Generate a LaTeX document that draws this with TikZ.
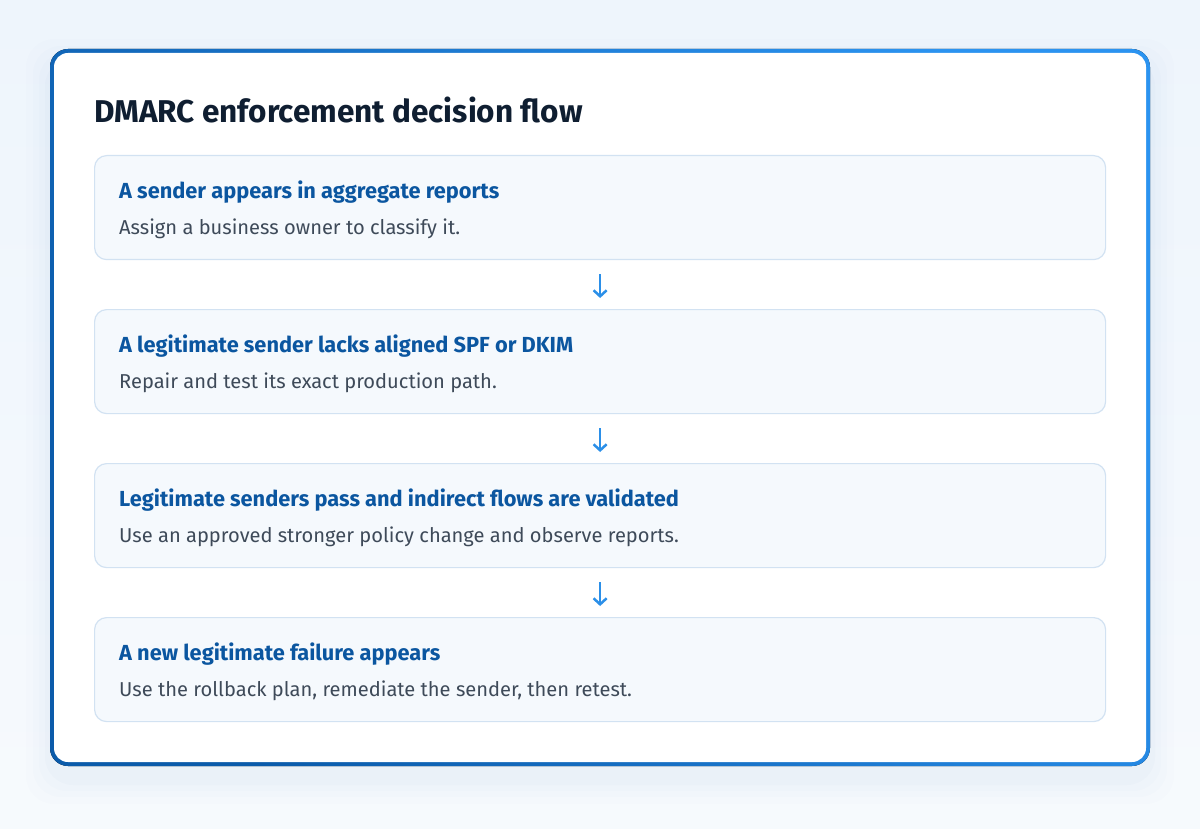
\documentclass[tikz,border=0pt]{standalone}
\usepackage{fontspec}
\setmainfont{Fira Sans}
\usetikzlibrary{positioning,arrows.meta}

\definecolor{pagebg}{HTML}{EEF5FC}
\definecolor{framedark}{HTML}{0B5BAA}
\definecolor{framelight}{HTML}{2B93F0}
\definecolor{stepfill}{HTML}{F5F9FD}
\definecolor{stepline}{HTML}{D2E2F2}
\definecolor{headblue}{HTML}{0B56A0}
\definecolor{bodygrey}{HTML}{3E4A59}
\definecolor{titleink}{HTML}{0F1E31}
\definecolor{arrowblue}{HTML}{2B8FE8}

\begin{document}
\begin{tikzpicture}[x=1pt,y=-1pt,
  stepbox/.style={draw=stepline,line width=1.2pt,fill=stepfill,rounded corners=12pt,
    minimum width=1011pt,minimum height=104pt,inner sep=0pt},
  head/.style={anchor=base west,inner sep=0pt,text=headblue,
    font=\fontsize{21.8}{26}\selectfont\bfseries},
  body/.style={anchor=base west,inner sep=0pt,text=bodygrey,
    font=\fontsize{20.1}{24}\selectfont},
  flow/.style={draw=arrowblue,line width=2.5pt,-{Straight Barb[length=6pt,width=13pt,line width=2.5pt]},
    shorten <=14pt,shorten >=11pt}]

  % page and card
  \fill[top color=pagebg,bottom color=pagebg!50!white] (0,0) rectangle (1200,829);
  \foreach \s/\o in {24/0.008,17/0.01,11/0.012,5/0.015}
    \fill[framedark,opacity=\o,rounded corners=28pt] (50-\s,49-\s+14) rectangle (1150+\s,766+\s+14);
  \fill[left color=framedark,right color=framelight,shading angle=120,rounded corners=18pt]
    (50,49) rectangle (1150,766);
  \fill[white,rounded corners=14pt] (54,53) rectangle (1146,762);

  \node[anchor=base west,inner sep=0pt,text=titleink,
    font=\fontsize{31.5}{38}\selectfont\bfseries] (title) at (94,123) {DMARC enforcement decision flow};

  % steps
  \node[stepbox,anchor=north west] (s1) at (94,155) {};
  \node[stepbox,below=48.8pt of s1] (s2) {};
  \node[stepbox,below=48.8pt of s2] (s3) {};
  \node[stepbox,below=48.8pt of s3] (s4) {};

  \foreach \n/\h/\b in {
    s1/A sender appears in aggregate reports/Assign a business owner to classify it.,
    s2/A legitimate sender lacks aligned SPF or DKIM/Repair and test its exact production path.,
    s3/Legitimate senders pass and indirect flows are validated/Use an approved stronger policy change and observe reports.,
    s4/A new legitimate failure appears/{Use the rollback plan, remediate the sender, then retest.}} {
    \node[head] (\n h) at ([xshift=25pt,yshift=-43.5pt]\n.north west) {\h};
    \node[body] (\n b) at ([xshift=25pt,yshift=-79.5pt]\n.north west) {\b};
  }

  \draw[flow] (s1) -- (s2);
  \draw[flow] (s2) -- (s3);
  \draw[flow] (s3) -- (s4);

\end{tikzpicture}
\end{document}
